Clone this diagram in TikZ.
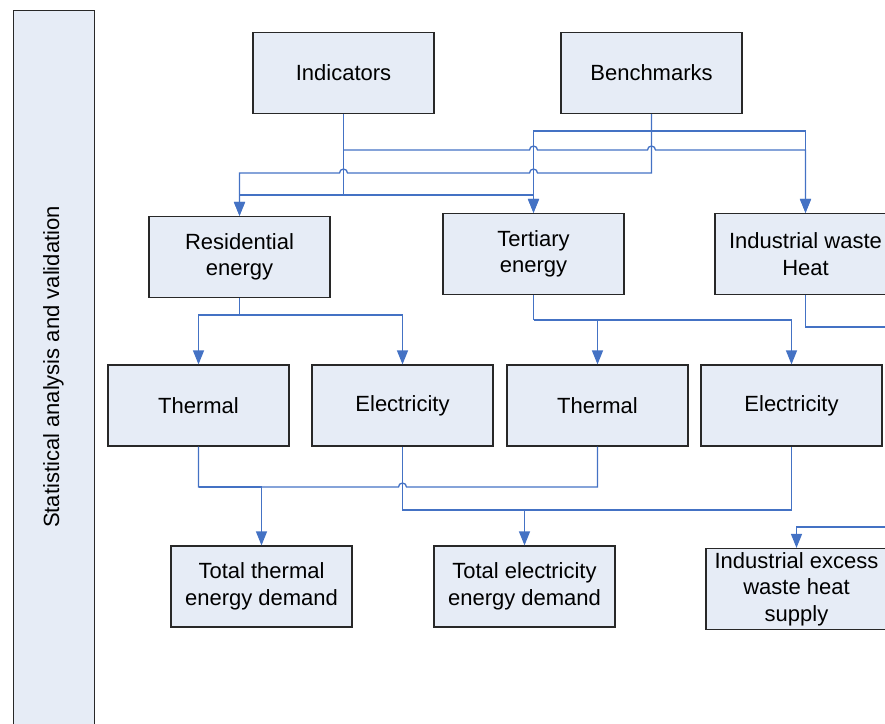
\documentclass[tikz,border=0pt]{standalone}
\usepackage{fontspec}
\setmainfont{Liberation Sans}
\usetikzlibrary{arrows.meta,calc}
\definecolor{boxfill}{RGB}{230,236,246}
\definecolor{boxline}{RGB}{40,40,40}
\definecolor{link}{RGB}{68,114,196}
\begin{document}
\begin{tikzpicture}[x=1pt,y=-1pt,
  blk/.style={draw=boxline,fill=boxfill,line width=1.2pt,minimum width=181pt,
    minimum height=81pt,inner sep=0pt,align=center,
    font=\fontsize{22}{26.5}\selectfont},
  conn/.style={draw=link,line width=1.3pt},
  arr/.style={conn,-{Triangle[length=14pt,width=11pt]}}]
\useasboundingbox (0,0) rectangle (885,723);
\clip (0,0) rectangle (885,723);

% side panel
\node[blk,minimum width=81pt,minimum height=740pt,anchor=north west] (side) at (13,10) {};
\node[rotate=90,font=\fontsize{22}{26}\selectfont] (sidetxt) at (53.5,367) {Statistical analysis and validation};

% boxes
\node[blk] (ind)  at (343.5,73)  {Indicators};
\node[blk] (ben)  at (651.5,73)  {Benchmarks};
\node[blk] (res)  at (239.5,257) {Residential\\energy};
\node[blk] (ter)  at (533.5,254) {Tertiary\\energy};
\node[blk] (iwh)  at (805.5,254) {Industrial waste\\Heat};
\node[blk] (th1)  at (198.5,405.5) {Thermal};
\node[blk] (el1)  at (402.5,405.5) {Electricity};
\node[blk] (th2)  at (597.5,405.5) {Thermal};
\node[blk] (el2)  at (791.5,405.5) {Electricity};
\node[blk] (tth)  at (261.5,586.5) {Total thermal\\energy demand};
\node[blk] (tel)  at (524.5,586.5) {Total electricity\\energy demand};
\node[blk] (sup)  at (796.5,589) {Industrial excess\\waste heat\\supply};

% levels of the horizontal runs
\coordinate (yA) at (0,131);
\coordinate (yB) at (0,150);
\coordinate (yC) at (0,173);
\coordinate (yD) at (0,195);
\coordinate (yR) at (0,315);
\coordinate (yT) at (0,320);
\coordinate (yH) at (0,487);
\coordinate (yE) at (0,510);
\coordinate (outA) at (895,327);
\coordinate (outB) at (895,527);

% indicators to the three sectors
\draw[conn] (ind.south) -- (ind.south |- yD);
\draw[arr] (ind.south |- yD) -| (res.north);
\draw[arr] (ind.south |- yD) -| (ter.north);
\draw[arr] (ind.south |- yB) -- ($(ter.north |- yB)+(-4,0)$) arc[start angle=180,end angle=360,radius=4]
  -- ($(ben.south |- yB)+(-4,0)$) arc[start angle=180,end angle=360,radius=4] -| (iwh.north);

% benchmarks to the three sectors
\draw[arr] (ben.south) -- (ben.south |- yC) -- ($(ter.north |- yC)+(4,0)$) arc[start angle=0,end angle=-180,radius=4]
  -- ($(ind.south |- yC)+(4,0)$) arc[start angle=0,end angle=-180,radius=4] -| (res.north);
\draw[arr] (ben.south |- yA) -| (ter.north);
\draw[arr] (ben.south |- yA) -| (iwh.north);

% sectors split into thermal and electricity
\draw[conn] (res.south) -- (res.south |- yR);
\draw[arr] (res.south |- yR) -| (th1.north);
\draw[arr] (res.south |- yR) -| (el1.north);
\draw[conn] (ter.south) -- (ter.south |- yT);
\draw[arr] (ter.south |- yT) -| (th2.north);
\draw[arr] (ter.south |- yT) -| (el2.north);

% industrial waste heat leaves and returns on the right
\draw[conn] (iwh.south) |- (outA);
\draw[arr] (outB) -| (sup.north);

% totals
\draw[conn] (th1.south) -- (th1.south |- yH) -- ($(el1.south |- yH)+(-4,0)$) arc[start angle=180,end angle=360,radius=4] -| (th2.south);
\draw[arr] (th1.south |- yH) -| (tth.north);
\draw[conn] (el1.south) |- (el2.south |- yE) -- (el2.south);
\draw[arr] (el1.south |- yE) -| (tel.north);
\end{tikzpicture}
\end{document}
